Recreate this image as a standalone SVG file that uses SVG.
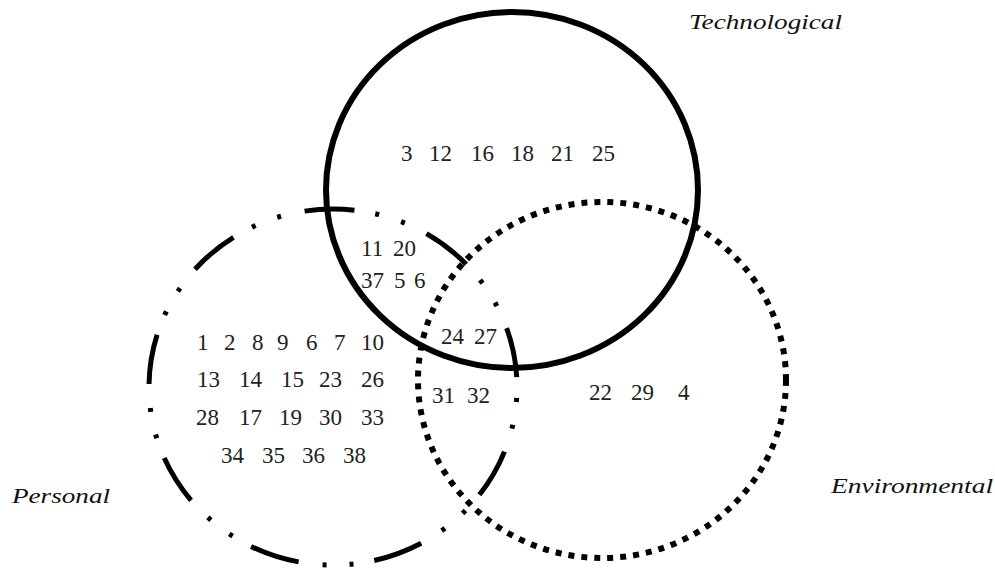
<svg xmlns="http://www.w3.org/2000/svg" width="995" height="572" viewBox="0 0 995 572">
<style>
.c{fill:none;stroke:#000}
.n{font-family:"Liberation Serif","Times New Roman",serif;font-size:23px;fill:#222}
.l{font-family:"Liberation Serif","Times New Roman",serif;font-style:italic;font-size:22px;fill:#111}
</style>
<rect width="995" height="572" fill="#fff"/>
<g id="technological">
<ellipse class="c" cx="512" cy="190" rx="186" ry="178" stroke-width="6"/>
<text class="l" x="689" y="29" textLength="153" lengthAdjust="spacingAndGlyphs">Technological</text>
</g>
<g id="personal">
<ellipse class="c" cx="333" cy="387" rx="184" ry="178" stroke-width="5" pathLength="1134" stroke-dasharray="50 21 4 23 4 24" stroke-dashoffset="60"/>
<text class="l" x="12" y="503" textLength="98" lengthAdjust="spacingAndGlyphs">Personal</text>
</g>
<g id="environmental">
<ellipse class="c" cx="602" cy="380" rx="184" ry="178" stroke-width="6" stroke-dasharray="6 7"/>
<text class="l" x="831" y="493" textLength="162" lengthAdjust="spacingAndGlyphs">Environmental</text>
</g>
<g id="numbers" class="n">
<text y="161"><tspan x="401">3</tspan><tspan x="429">12</tspan><tspan x="471">16</tspan><tspan x="511">18</tspan><tspan x="551">21</tspan><tspan x="592">25</tspan></text>
<text y="256"><tspan x="361">11</tspan><tspan x="393">20</tspan></text>
<text y="288"><tspan x="361">37</tspan><tspan x="394">5</tspan><tspan x="414">6</tspan></text>
<text y="344"><tspan x="441">24</tspan><tspan x="474">27</tspan></text>
<text y="403"><tspan x="432">31</tspan><tspan x="467">32</tspan></text>
<text y="400"><tspan x="589">22</tspan><tspan x="631">29</tspan><tspan x="678">4</tspan></text>
<text y="350"><tspan x="197">1</tspan><tspan x="224">2</tspan><tspan x="252">8</tspan><tspan x="277">9</tspan><tspan x="306">6</tspan><tspan x="334">7</tspan><tspan x="361">10</tspan></text>
<text y="387"><tspan x="197">13</tspan><tspan x="239">14</tspan><tspan x="281">15</tspan><tspan x="319">23</tspan><tspan x="361">26</tspan></text>
<text y="425"><tspan x="196">28</tspan><tspan x="239">17</tspan><tspan x="279">19</tspan><tspan x="319">30</tspan><tspan x="361">33</tspan></text>
<text y="463"><tspan x="221">34</tspan><tspan x="262">35</tspan><tspan x="302">36</tspan><tspan x="343">38</tspan></text>
</g>
</svg>
